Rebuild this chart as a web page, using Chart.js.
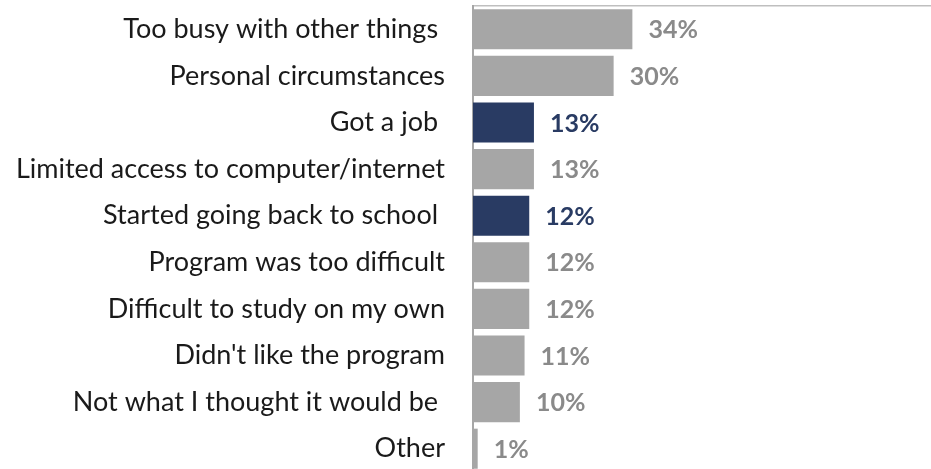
<!DOCTYPE html>
<html>
<head>
<meta charset="utf-8">
<script src="https://cdn.jsdelivr.net/npm/chart.js@4"></script>
<style>
  html, body { margin: 0; padding: 0; background: #fff; overflow: hidden; }
  #wrap { width: 931px; height: 472px; }
</style>
</head>
<body>
<div id="wrap"><canvas id="mychart"></canvas></div>
<script>
let reasons = [
  "Too busy with other things ",
  "Personal circumstances",
  "Got a job ",
  "Limited access to computer/internet",
  "Started going back to school ",
  "Program was too difficult",
  "Difficult to study on my own",
  "Didn't like the program",
  "Not what I thought it would be ",
  "Other"
];
let percents = [34, 30, 13, 13, 12, 12, 12, 11, 10, 1];
let highlighted = [false, false, true, false, true, false, false, false, false, false];

let grey = "#a6a6a6";
let navy = "#293b63";

let barColors = highlighted.map((h) => (h ? navy : grey));
let labelColors = highlighted.map((h) => (h ? navy : "#8a8a8a"));

// draws the % text just right of each bar
let valueLabels = {
  id: "valueLabels",
  afterDatasetsDraw(chart) {
    let ctx = chart.ctx;
    let meta = chart.getDatasetMeta(0);
    ctx.save();
    ctx.font = "bold 25px Lato";
    ctx.textBaseline = "middle";
    ctx.textAlign = "left";
    meta.data.forEach((bar, i) => {
      ctx.fillStyle = labelColors[i];
      ctx.fillText(percents[i] + "%", bar.x + 16, bar.y + 1);
    });
    ctx.restore();
  },
};

let mychart = document.getElementById("mychart").getContext("2d");
let chart = new Chart(mychart, {
  type: "bar",
  data: {
    labels: reasons,
    datasets: [
      {
        data: percents,
        backgroundColor: barColors,
        categoryPercentage: 0.86,
        barPercentage: 1,
      },
    ],
  },
  options: {
    indexAxis: "y",
    responsive: true,
    maintainAspectRatio: false,
    animation: false,
    layout: { padding: { top: 6, right: 0, bottom: 0, left: 0 } },
    plugins: {
      legend: { display: false },
      tooltip: { enabled: false },
    },
    scales: {
      x: {
        position: "top",
        min: 0,
        max: 97.7,
        ticks: { display: false },
        grid: { display: false },
        border: { display: true, color: "#bfbfbf", width: 1.5 },
        afterFit(scale) {
          scale.height = 0;
        },
      },
      y: {
        grid: { display: false },
        border: { display: true, color: "#a6a6a6", width: 2 },
        ticks: {
          color: "#1a1a1a",
          font: { family: "Lato", size: 27 },
          padding: 20,
        },
        afterFit(scale) {
          scale.width = 473;
          scale.paddingTop = 0;
          scale.paddingBottom = 0;
        },
      },
    },
  },
  plugins: [valueLabels],
});
</script>
</body>
</html>
